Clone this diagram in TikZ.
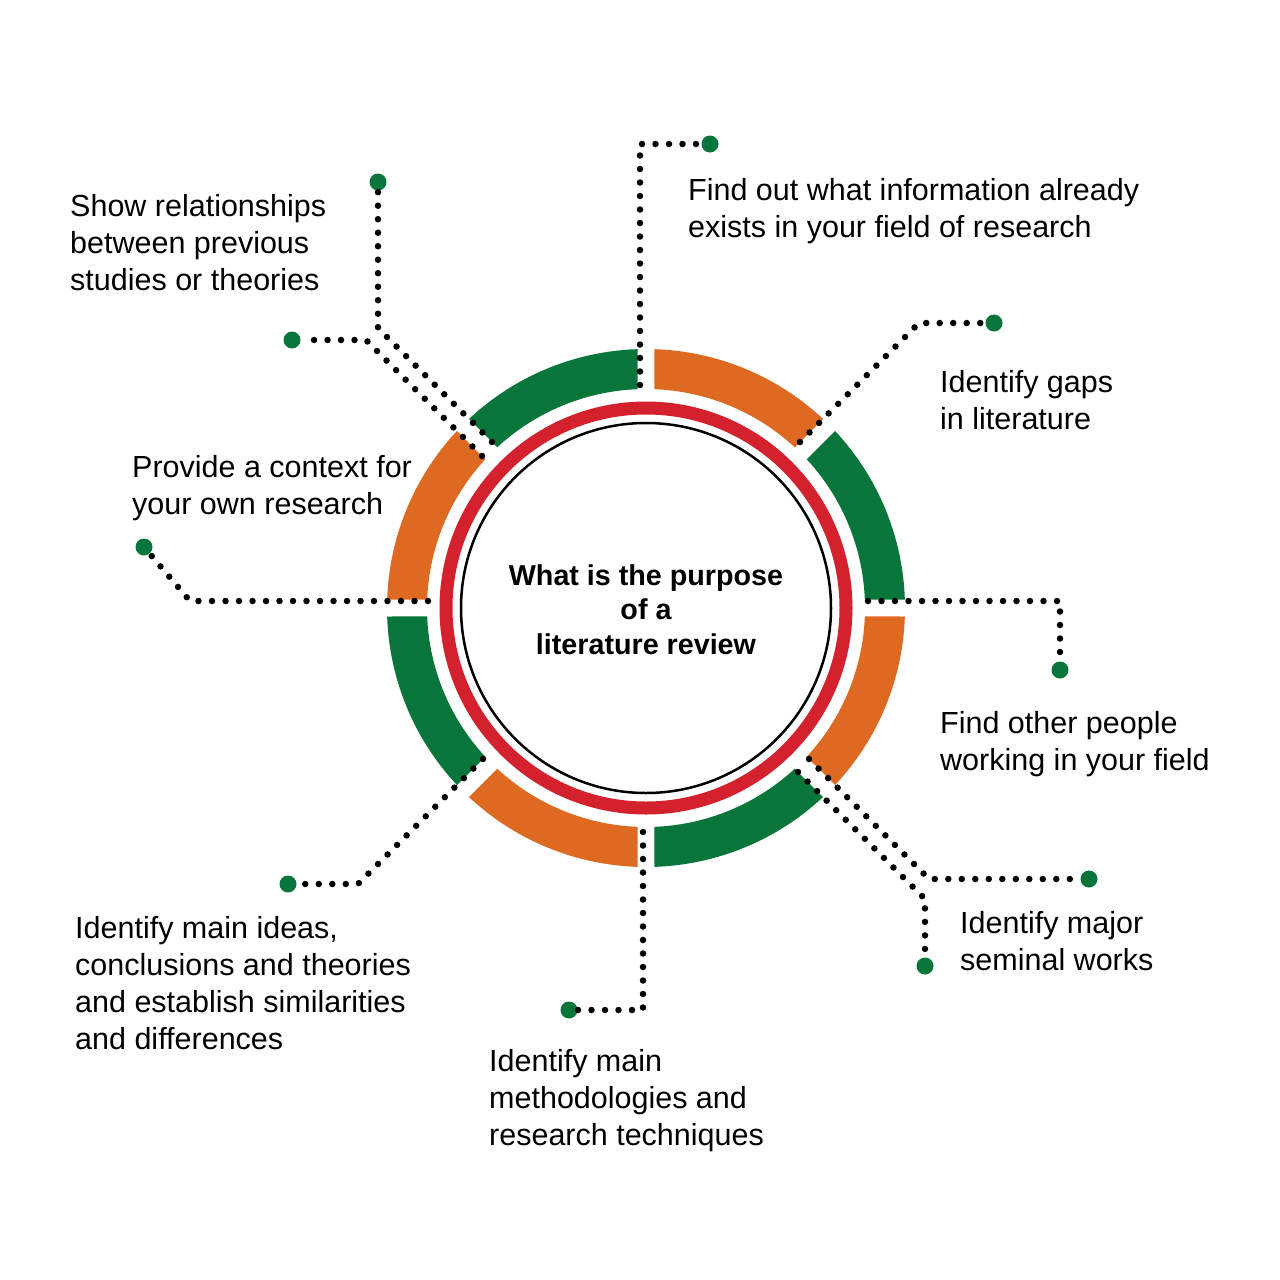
\documentclass[tikz,border=0pt]{standalone}
\usepackage{fontspec}
\setmainfont{Liberation Sans}
\definecolor{rgreen}{RGB}{8,118,58}
\definecolor{rorange}{RGB}{221,106,32}
\definecolor{rred}{RGB}{212,33,46}
\newcommand{\ringseg}[3]{%
  \fill[#3] ([shift={({#1+1.88}:259)}]C) arc[start angle={#1+1.88}, end angle={#2-1.88}, radius=259]
    -- ([shift={({#2-2.22}:219)}]C) arc[start angle={#2-2.22}, end angle={#1+2.22}, radius=219] -- cycle;}
\begin{document}
\begin{tikzpicture}[x=1pt,y=1pt,yscale=-1,
  dotline/.style={black, line width=6.5pt, line cap=round, dash pattern=on 0pt off 13.5pt},
  enddot/.style={circle, fill=rgreen, inner sep=0pt, minimum size=17pt},
  lbl/.style={anchor=base west, align=left, inner sep=0pt, font=\fontsize{30.5}{37}\selectfont},
  ctr/.style={align=center, inner sep=0pt, font=\fontsize{28.7}{34.5}\selectfont\bfseries}]
\fill[white] (0,0) rectangle (1280,1280);
\useasboundingbox (0,0) rectangle (1280,1280);
\coordinate (C) at (646,608);
% outer segmented ring
\ringseg{0}{45}{rorange}
\ringseg{45}{90}{rgreen}
\ringseg{90}{135}{rorange}
\ringseg{135}{180}{rgreen}
\ringseg{180}{225}{rorange}
\ringseg{225}{270}{rgreen}
\ringseg{270}{315}{rorange}
\ringseg{315}{360}{rgreen}
% red ring and inner circle
\draw[rred, line width=13pt] (C) circle[radius=200];
\draw[black, line width=2.5pt] (C) circle[radius=185];
\node[ctr, anchor=base] (title) at (646,654) {What is the purpose\\of a\\literature review};
% end dots
\node[enddot] (dT) at (710,144) {};
\node[enddot] (dTR) at (994,323) {};
\node[enddot] (dR) at (1060,670) {};
\node[enddot] (dBRa) at (1089,879) {};
\node[enddot] (dBRb) at (925,966) {};
\node[enddot] (dB) at (569,1010) {};
\node[enddot] (dBL) at (288,884) {};
\node[enddot] (dL) at (144,547) {};
\node[enddot] (dTLa) at (378,182) {};
\node[enddot] (dTLb) at (292,340) {};
% start / corner coordinates
\coordinate (sT) at (640,385);   \coordinate (kT) at (640,144);
\coordinate (sTR) at (800,442);  \coordinate (kTR) at (919,323);
\coordinate (sR) at (868,601);   \coordinate (kR) at (1060,601);
\coordinate (sBRa) at (809,759); \coordinate (kBRa) at (929,879);
\coordinate (sBRb) at (798,772); \coordinate (kBRb) at (925,899);
\coordinate (sB) at (643,832);   \coordinate (kB) at (643,1010);
\coordinate (sBL) at (483,759);  \coordinate (kBL) at (358,884);
\coordinate (sL) at (428,601);   \coordinate (kL) at (190,601);
\coordinate (sTLa) at (492,442); \coordinate (kTLa) at (378,328);
\coordinate (sTLb) at (482,456); \coordinate (kTLb) at (366,340);
% connectors
\draw[dotline] (sT) -- (kT) -- (dT);
\draw[dotline] (sTR) -- (kTR) -- (dTR);
\draw[dotline] (sR) -- (kR) -- (dR);
\draw[dotline] (sBRa) -- (kBRa) -- (dBRa);
\draw[dotline] (sBRb) -- (kBRb) -- (dBRb);
\draw[dotline] (sB) -- (kB) -- (dB);
\draw[dotline] (sBL) -- (kBL) -- (dBL);
\draw[dotline] (sL) -- (kL) -- (dL);
\draw[dotline] (sTLa) -- (kTLa) -- (dTLa);
\draw[dotline] (sTLb) -- (kTLb) -- (dTLb);
% labels (anchor = baseline of last line)
\node[lbl] (l1) at (70,290) {Show relationships\\between previous\\studies or theories};
\node[lbl] (l2) at (688,237) {Find out what information already\\exists in your field of research};
\node[lbl] (l3) at (940,429) {Identify gaps\\in literature};
\node[lbl] (l4) at (132,514) {Provide a context for\\your own research};
\node[lbl] (l5) at (940,770) {Find other people\\working in your field};
\node[lbl] (l6) at (960,970) {Identify major\\seminal works};
\node[lbl] (l7) at (75,1049) {Identify main ideas,\\conclusions and theories\\and establish similarities\\and differences};
\node[lbl] (l8) at (489,1145) {Identify main\\methodologies and\\research techniques};
\end{tikzpicture}
\end{document}
